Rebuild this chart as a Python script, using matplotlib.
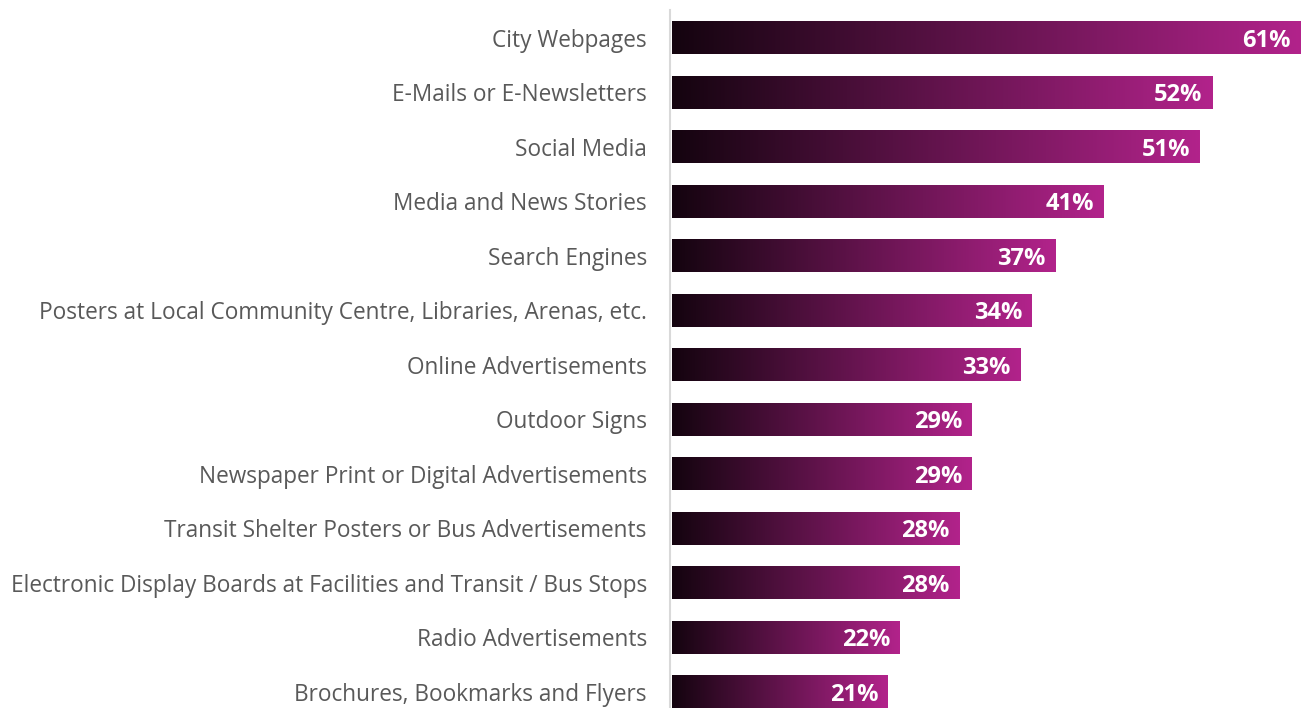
import numpy as np
import matplotlib.pyplot as plt
from matplotlib.colors import LinearSegmentedColormap

categories = [
    "City Webpages",
    "E-Mails or E-Newsletters",
    "Social Media",
    "Media and News Stories",
    "Search Engines",
    "Posters at Local Community Centre, Libraries, Arenas, etc.",
    "Online Advertisements",
    "Outdoor Signs",
    "Newspaper Print or Digital Advertisements",
    "Transit Shelter Posters or Bus Advertisements",
    "Electronic Display Boards at Facilities and Transit / Bus Stops",
    "Radio Advertisements",
    "Brochures, Bookmarks and Flyers",
]
# shown percentages
labels = [61, 52, 51, 41, 37, 34, 33, 29, 29, 28, 28, 22, 21]
# bar lengths as they measure off the picture (unrounded shares)
values = [61.0, 52.4, 51.2, 41.9, 37.2, 34.9, 33.8, 29.1, 29.1, 27.9, 27.9, 22.1, 20.95]

plt.rcParams['font.family'] = ['Open Sans', 'DejaVu Sans']

# dark plum -> magenta, stretched over each bar's own length
cmap = LinearSegmentedColormap.from_list("grad", ["#14040f", "#b2238b"])
grad = np.linspace(0, 1, 256).reshape(1, -1)

fig = plt.figure(figsize=(13.09, 7.08), dpi=100)
ax = fig.add_axes([672 / 1309, 0, 637 / 1309, 1])

bar_h = 0.59
y = np.arange(len(values))
for i, (v, lab) in enumerate(zip(values, labels)):
    ax.imshow(grad, cmap=cmap, aspect='auto',
              extent=[0, v, i + bar_h / 2, i - bar_h / 2], zorder=2)
    ax.text(v - 0.95, i + 0.05, f"{lab}%", ha='right', va='center',
            color='white', fontsize=17, fontweight='bold', zorder=3)

ax.set_xlim(0, 61.8)
ax.set_ylim(12.294, -0.697)
ax.set_yticks(y)
ax.set_yticklabels(categories)
ax.tick_params(axis='y', length=0, pad=17, labelsize=16.3, labelcolor='#595959')
ax.set_xticks([])
for s in ['top', 'right', 'bottom']:
    ax.spines[s].set_visible(False)
ax.spines['left'].set_color('#d9d9d9')
ax.spines['left'].set_linewidth(1.5)
ax.spines['left'].set_bounds(-0.51, 12.3)
ax.spines['left'].set_position(('data', -0.15))

fig.savefig("out.png", dpi=100)
